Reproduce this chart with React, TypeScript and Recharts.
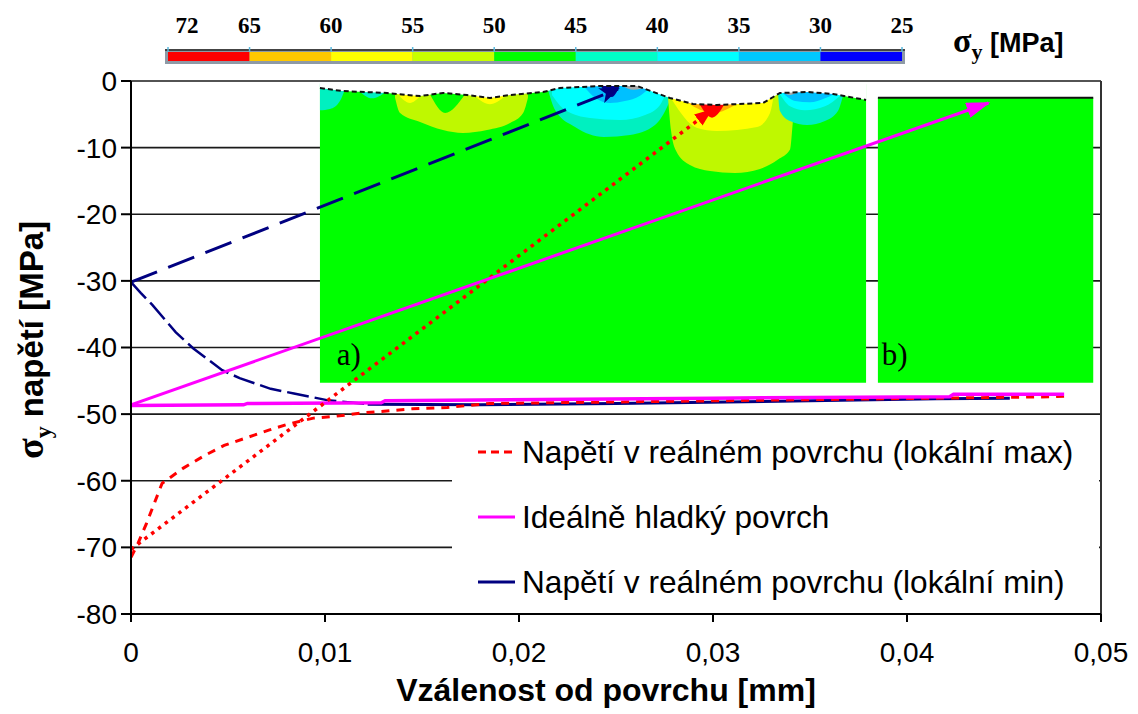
import React from 'react';
import {
  ComposedChart,
  Line,
  Area,
  XAxis,
  YAxis,
  CartesianGrid,
  Legend,
  ReferenceLine,
  ReferenceDot,
  Label,
  BarChart,
  Bar,
} from 'recharts';

// axes
const xTicks = [0, 0.01, 0.02, 0.03, 0.04, 0.05];
const yTicks = [-80, -70, -60, -50, -40, -30, -20, -10, 0];

// series
const localMaxX = [0, 0.00036, 0.0008, 0.0012, 0.0016, 0.0027, 0.0038, 0.0048, 0.006, 0.0071, 0.0081, 0.0094, 0.0106, 0.012, 0.0133, 0.0145, 0.0163, 0.0185, 0.03, 0.0475, 0.0481];
const localMaxY = [-71.5, -69.4, -66.4, -63.4, -60.4, -58.1, -56.2, -54.7, -53.5, -52.4, -51.5, -50.6, -50.3, -49.8, -49.5, -49.2, -49.0, -48.4, -48.0, -47.4, -47.3];

const idealX = [0, 0.0058, 0.006, 0.0129, 0.0131, 0.03, 0.0422, 0.0424, 0.0481];
const idealY = [-48.7, -48.6, -48.4, -48.3, -48.0, -47.6, -47.4, -47.0, -47.0];

const localMinX = [0, 0.0005, 0.0011, 0.0023, 0.0032, 0.0047, 0.0056, 0.0072, 0.0084, 0.0101, 0.0122, 0.018, 0.025, 0.035, 0.0415, 0.0453];
const localMinY = [-30.2, -31.8, -33.6, -37.7, -40.1, -43.4, -44.6, -46.2, -46.9, -47.9, -48.5, -48.6, -48.4, -48.0, -47.7, -47.6];
const localMinSplit = 10; // steep part drawn broken, flat part solid

// arrows (start, end)
const blueArrowX = [0, 0.0251];
const blueArrowY = [-30.2, -1.2];
const redArrowX = [0, 0.0299];
const redArrowY = [-70.3, -4.4];
const pinkArrowX = [0, 0.0442];
const pinkArrowY = [-48.6, -3.3];

// inset a) : rough surface and stress field patches
const surfX = [0.00974, 0.01088, 0.0132, 0.01423, 0.0149, 0.01608, 0.01732, 0.0185, 0.01954, 0.02124, 0.02211, 0.02418, 0.02608, 0.02778, 0.02897, 0.0302, 0.03258, 0.03345, 0.03485, 0.03619, 0.03789];
const surfY = [-1.05, -1.5, -1.8, -2.1, -2.25, -1.8, -2.1, -2.55, -2.1, -1.65, -1.05, -0.75, -0.75, -2.55, -3.45, -3.6, -3.3, -1.8, -1.65, -1.95, -2.85];
const insetAX = [0.00974, 0.03789];
const insetBX = [0.0385, 0.0496];
const insetBottom = -45.3;
const insetBTop = -2.5;

const aquaTLX = [0.00974, 0.01026, 0.01077, 0.01103];
const aquaTLLo = [-4.4, -4.2, -3.0, -1.2];
const aquaT2X = [0.0117, 0.01242, 0.0132];
const aquaT2Lo = [-1.3, -2.6, -1.5];
const ygLX = [0.01361, 0.01387, 0.0149, 0.01608, 0.01711, 0.01835, 0.01954, 0.02021, 0.02046];
const ygLLo = [-2.5, -4.8, -6.15, -7.36, -7.8, -7.36, -6.3, -4.8, -2.5];
const greenVX = [0.01541, 0.01619, 0.01722];
const greenVLo = [-2.0, -4.8, -2.0];
const yelL1X = [0.01376, 0.01438, 0.0149];
const yelL1Lo = [-2.0, -3.3, -2.3];
const yelL2X = [0.01773, 0.0185, 0.01928];
const yelL2Lo = [-2.3, -3.5, -2.3];
const aquaCX = [0.0215, 0.02186, 0.02289, 0.02438, 0.02572, 0.02701, 0.02768, 0.02789];
const aquaCLo = [-1.35, -4.35, -6.9, -8.4, -8.1, -6.6, -3.6, -2.1];
const cyanCX = [0.0217, 0.02237, 0.02366, 0.02521, 0.0265, 0.02727, 0.02753];
const cyanCLo = [-2.1, -4.35, -5.55, -5.85, -5.1, -3.6, -2.1];
const lblueCX = [0.0234, 0.02392, 0.02469, 0.02546, 0.02624, 0.02675];
const lblueCLo = [-1.0, -2.5, -3.3, -3.0, -2.2, -1.0];
const dblueCX = [0.02418, 0.02479, 0.02521];
const dblueCLo = [-0.6, -2.4, -0.6];
const grayCX = [0.02531, 0.0259, 0.02665];
const grayCLo = [-0.7, -1.3, -0.9];
const ygRX = [0.02768, 0.02784, 0.0281, 0.02881, 0.02985, 0.03113, 0.03242, 0.03335, 0.03397, 0.03412, 0.03423];
const ygRLo = [-2.5, -7.5, -10.5, -12.6, -13.5, -13.8, -13.2, -11.8, -10.3, -6, -2.5];
const yelRX = [0.02789, 0.02918, 0.0302, 0.03227, 0.03294, 0.03309];
const yelRLo = [-2.85, -7.05, -7.5, -6.9, -4.8, -2.85];
const orgRX = [0.02871, 0.02933, 0.0301, 0.03088, 0.03139];
const orgRLo = [-3.3, -4.3, -4.8, -4.0, -3.2];
const redRX = [0.02933, 0.02995, 0.03057];
const redRLo = [-3.6, -5.5, -3.6];
const aquaRX = [0.03335, 0.03345, 0.03397, 0.03485, 0.03577, 0.03644, 0.0367];
const aquaRLo = [-1.8, -4.5, -6.0, -6.6, -6.0, -4.5, -2.2];
const cyanRX = [0.03345, 0.03397, 0.03474, 0.03577, 0.03655];
const cyanRLo = [-2, -3.8, -4.4, -3.8, -2.2];
const lblueRX = [0.03356, 0.03423, 0.035, 0.03577, 0.03629];
const lblueRLo = [-1.7, -3.0, -3.2, -2.6, -1.9];
const grayRX = [0.0334, 0.03397, 0.03448];
const grayRLo = [-1.2, -2.1, -1.4];

// colour scale
const scaleLabels = ['72', '65', '60', '55', '50', '45', '40', '35', '30', '25'];
const scaleColors = ['#ff0000', '#ffc800', '#ffff00', '#c8ff00', '#00ff00', '#00ffc8', '#00ffff', '#00c8ff', '#0000ff'];

// legend
const legendNames = [
  'Napětí v reálném povrchu (lokální max)',
  'Ideálně hladký povrch',
  'Napětí v reálném povrchu (lokální min)',
];
const legendColors = ['#ff0000', '#ff00ff', '#000080'];

const toPts = (xs: number[], ys: number[]) => xs.map((x, i) => ({ x, y: ys[i] }));
const toRange = (xs: number[], lo: number[] | number, hi: number[] | number) =>
  xs.map((x, i) => ({
    x,
    r: [Array.isArray(lo) ? lo[i] : lo, Array.isArray(hi) ? hi[i] : hi],
  }));

const HI = -0.3;
const patches: { x: number[]; lo: number[]; color: string }[] = [
  { x: aquaTLX, lo: aquaTLLo, color: '#00f0c0' },
  { x: aquaT2X, lo: aquaT2Lo, color: '#00f0c0' },
  { x: ygLX, lo: ygLLo, color: '#bff800' },
  { x: greenVX, lo: greenVLo, color: '#00ff00' },
  { x: yelL1X, lo: yelL1Lo, color: '#ffff00' },
  { x: yelL2X, lo: yelL2Lo, color: '#ffff00' },
  { x: aquaCX, lo: aquaCLo, color: '#00f0c0' },
  { x: cyanCX, lo: cyanCLo, color: '#00ffff' },
  { x: lblueCX, lo: lblueCLo, color: '#00c0ff' },
  { x: dblueCX, lo: dblueCLo, color: '#000090' },
  { x: grayCX, lo: grayCLo, color: '#a8a8a8' },
  { x: ygRX, lo: ygRLo, color: '#bff800' },
  { x: yelRX, lo: yelRLo, color: '#ffff00' },
  { x: orgRX, lo: orgRLo, color: '#ffb000' },
  { x: redRX, lo: redRLo, color: '#ff0000' },
  { x: aquaRX, lo: aquaRLo, color: '#00f0c0' },
  { x: cyanRX, lo: cyanRLo, color: '#00ffff' },
  { x: lblueRX, lo: lblueRLo, color: '#00c0ff' },
  { x: grayRX, lo: grayRLo, color: '#a8a8a8' },
];

const sans = '"Liberation Sans", Arial, sans-serif';
const serif = '"Liberation Serif", "Times New Roman", serif';

const fmtX = (v: number) => (v === 0 ? '0' : v.toFixed(2).replace('.', ','));

const renderLegend = () => (
  <svg width={647} height={190}>
    {legendNames.map((name, i) => {
      const y = 30 + i * 65;
      return (
        <g key={name}>
          <line x1={26} x2={63} y1={y} y2={y} stroke={legendColors[i]} strokeWidth={3}
            strokeDasharray={i === 0 ? '8 5' : undefined} />
          <text x={70} y={y} dominantBaseline="central" fontFamily={sans} fontSize={31.6}
            fill="#000">{name}</text>
        </g>
      );
    })}
  </svg>
);

const ScaleTick = (props: any) => {
  const { x, payload, index } = props;
  return (
    <text x={x + (index === 0 ? 19 : 0)} y={33} textAnchor="middle" fontFamily={serif}
      fontWeight="bold" fontSize={23} fill="#000">{scaleLabels[payload.value]}</text>
  );
};

const NoteShape = (text: string) => (props: any) => (
  <text x={props.cx} y={props.cy} dominantBaseline="central" fontFamily={serif} fontSize={31} fill="#000">{text}</text>
);

export default function App() {
  const scaleRow = [Object.fromEntries([['name', 's'], ...scaleColors.map((_, i) => [`c${i}`, 1])])];
  const seriesLine = (data: any[], color: string, width: number, dash?: string, marker?: string) => (
    <Line data={data} dataKey="y" type="linear" stroke={color} strokeWidth={width}
      strokeDasharray={dash} dot={false} activeDot={false} legendType="none"
      isAnimationActive={false} markerEnd={marker} />
  );

  return (
    <div style={{ position: 'fixed', left: 0, top: 0, width: 1138, height: 714, background: '#fff', overflow: 'hidden' }}>
      <div style={{ position: 'absolute', left: 0, top: 0 }}>
        <ComposedChart width={1138} height={714} margin={{ top: 81, right: 37, bottom: 40, left: 61 }}>
          <defs>
            <marker id="arBlue" markerUnits="userSpaceOnUse" markerWidth={20} markerHeight={16} refX={18} refY={8} orient="auto">
              <path d="M0,0 L20,8 L0,16 L5,8 z" fill="#000080" />
            </marker>
            <marker id="arRed" markerUnits="userSpaceOnUse" markerWidth={18} markerHeight={14} refX={16} refY={7} orient="auto">
              <path d="M0,0 L18,7 L0,14 z" fill="#ff0000" />
            </marker>
            <marker id="arPink" markerUnits="userSpaceOnUse" markerWidth={24} markerHeight={16} refX={22} refY={8} orient="auto">
              <path d="M0,0 L24,8 L0,16 z" fill="#ff00ff" />
            </marker>
          </defs>
          <CartesianGrid vertical={false} stroke="#1a1a1a" strokeWidth={1.6} />
          <XAxis dataKey="x" type="number" domain={[0, 0.05]} ticks={xTicks} interval={0}
            tickFormatter={fmtX} allowDataOverflow height={60}
            axisLine={{ stroke: '#000', strokeWidth: 2 }} tickLine={{ stroke: '#000', strokeWidth: 2 }} tickSize={8} tickMargin={20}
            tick={{ fontFamily: sans, fontSize: 28, fill: '#000' }}>
            <Label content={() => (
              <text x={606} y={701} textAnchor="middle" fontFamily={sans} fontWeight="bold" fontSize={32}
                fill="#000">Vzálenost od povrchu [mm]</text>
            )} />
          </XAxis>
          <YAxis type="number" domain={[-80, 0]} ticks={yTicks} interval={0} allowDataOverflow width={70}
            axisLine={{ stroke: '#000', strokeWidth: 2 }} tickLine={{ stroke: '#000', strokeWidth: 2 }} tickSize={10} tickMargin={4}
            tick={{ fontFamily: sans, fontSize: 28, fill: '#000' }}>
            <Label content={() => (
              <text transform="translate(43,340) rotate(-90)" textAnchor="middle" fontFamily={sans} fontWeight="bold" fontSize={33} fill="#000">
                <tspan fontFamily={serif} fontSize={38}>σ</tspan>
                <tspan fontFamily={serif} fontSize={24} dy={8}>y</tspan>
                <tspan dy={-8}> napětí [MPa]</tspan>
              </text>
            )} />
          </YAxis>
          <ReferenceLine x={0.05} stroke="#333" strokeWidth={2} />

          {/* inset a) */}
          <Area data={toRange(insetAX, insetBottom, -0.5)} dataKey="r" type="linear" stroke="none" fill="#00ff00"
            fillOpacity={1} isAnimationActive={false} legendType="none" activeDot={false} />
          {patches.map((p, i) => (
            <Area key={`p${i}`} data={toRange(p.x, p.lo, HI)} dataKey="r" type="monotone" stroke="none" fill={p.color}
              fillOpacity={1} isAnimationActive={false} legendType="none" activeDot={false} />
          ))}
          <Area data={toRange(surfX, surfY, -0.25)} dataKey="r" type="linear" stroke="none" fill="#fff"
            fillOpacity={1} isAnimationActive={false} legendType="none" activeDot={false} />
          {seriesLine(toPts(surfX, surfY), '#111', 2, '5 3')}

          {/* inset b) */}
          <Area data={toRange(insetBX, insetBottom, insetBTop)} dataKey="r" type="linear" stroke="none" fill="#00ff00"
            fillOpacity={1} isAnimationActive={false} legendType="none" activeDot={false} />
          {seriesLine(toPts(insetBX, [insetBTop, insetBTop]), '#111', 2)}

          {/* curves */}
          {seriesLine(toPts(localMinX.slice(0, localMinSplit + 1), localMinY.slice(0, localMinSplit + 1)), '#000080', 2.5, '22 6')}
          {seriesLine(toPts(localMinX.slice(localMinSplit), localMinY.slice(localMinSplit)), '#000080', 3)}
          {seriesLine(toPts(localMaxX, localMaxY), '#ff0000', 3, '8 7')}
          {seriesLine(toPts(idealX, idealY), '#ff00ff', 3.5)}

          {/* arrows */}
          {seriesLine(toPts(blueArrowX, blueArrowY), '#000080', 3, '28 12', 'url(#arBlue)')}
          {seriesLine(toPts(redArrowX, redArrowY), '#ff0000', 3.5, '3.5 5', 'url(#arRed)')}
          {seriesLine(toPts(pinkArrowX, pinkArrowY), '#ff00ff', 3, undefined, 'url(#arPink)')}

          <ReferenceDot x={0.0106} y={-41.1} r={0} shape={NoteShape('a)')} />
          <ReferenceDot x={0.0387} y={-41.1} r={0} shape={NoteShape('b)')} />

          <Legend layout="vertical" verticalAlign="middle" align="center" content={renderLegend}
            wrapperStyle={{ position: 'absolute', left: 452, top: 422, width: 647, height: 190, background: '#fff' }} />
        </ComposedChart>
      </div>

      {/* colour scale */}
      <div style={{ position: 'absolute', left: 165, top: 49, width: 740, height: 15, background: '#8e9aa6', borderTop: '2px solid #444', boxSizing: 'border-box' }} />
      <div style={{ position: 'absolute', left: 0, top: 0 }}>
        <BarChart width={1138} height={66} layout="vertical" data={scaleRow} barCategoryGap={0}
          margin={{ top: 22, right: 236, left: 168, bottom: 5 }}>
          <XAxis type="number" orientation="top" domain={[0, 9]} ticks={scaleLabels.map((_, i) => i)} interval={0}
            height={30} axisLine={false} tickLine={{ stroke: '#5ab8de', strokeWidth: 1.5 }} tickSize={5} tick={<ScaleTick />} />
          <YAxis type="category" dataKey="name" hide />
          {scaleColors.map((c, i) => (
            <Bar key={c} dataKey={`c${i}`} stackId="s" fill={c} isAnimationActive={false} />
          ))}
        </BarChart>
      </div>
      <div style={{ position: 'absolute', left: 953, top: 22, fontFamily: sans, fontWeight: 'bold', fontSize: 27, color: '#000', whiteSpace: 'nowrap' }}>
        <span style={{ fontFamily: serif, fontSize: 34 }}>σ</span>
        <span style={{ fontFamily: serif, fontSize: 22, position: 'relative', top: 7 }}>y</span>
        <span> [MPa]</span>
      </div>
    </div>
  );
}
